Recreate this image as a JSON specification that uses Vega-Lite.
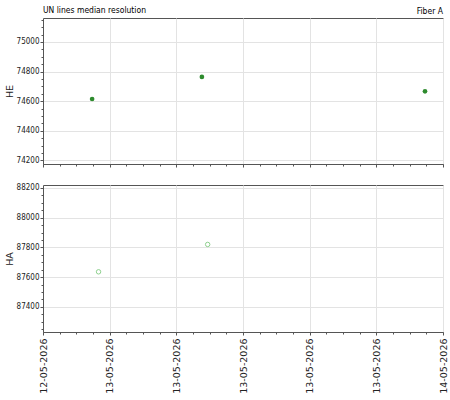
{
  "$schema": "https://vega.github.io/schema/vega-lite/v6.json",
  "padding": {"left": 3, "top": 5, "right": 3, "bottom": 3},
  "background": "white",
  "title": {
    "text": "Fiber A",
    "anchor": "end",
    "offset": -10,
    "dx": -5,
    "font": "DejaVu Sans Condensed",
    "fontSize": 8.5,
    "fontWeight": "normal",
    "color": "black"
  },
  "datasets": {
    "res": [
      {"time": "2026-05-13T00:41:00", "line": "HE", "value": 74615},
      {"time": "2026-05-13T08:55:00", "line": "HE", "value": 74764},
      {"time": "2026-05-14T01:39:00", "line": "HE", "value": 74667},
      {"time": "2026-05-13T01:10:00", "line": "HA", "value": 87636},
      {"time": "2026-05-13T09:21:00", "line": "HA", "value": 87820}
    ]
  },
  "spacing": 15,
  "vconcat": [
    {
      "width": 400,
      "height": 146,
      "title": {
        "text": "UN lines median resolution",
        "anchor": "start",
        "frame": "group",
        "offset": 4,
        "font": "DejaVu Sans Condensed",
        "fontSize": 8.5,
        "fontWeight": "normal",
        "color": "black"
      },
      "data": {"name": "res"},
      "transform": [{"filter": "datum.line === 'HE'"}],
      "layer": [
        {
          "mark": {"type": "point", "filled": true, "color": "#2e8b2e", "size": 22, "opacity": 1},
          "encoding": {
            "x": {
              "field": "time", "type": "temporal",
              "scale": {"domain": [{"year": 2026, "month": 5, "date": 12, "hours": 21}, {"year": 2026, "month": 5, "date": 14, "hours": 3}]},
              "axis": {
                "orient": "bottom", "title": null, "labels": false,
                "values": [
                  {"year": 2026, "month": 5, "date": 12, "hours": 21},
                  {"year": 2026, "month": 5, "date": 13, "hours": 2},
                  {"year": 2026, "month": 5, "date": 13, "hours": 7},
                  {"year": 2026, "month": 5, "date": 13, "hours": 12},
                  {"year": 2026, "month": 5, "date": 13, "hours": 17},
                  {"year": 2026, "month": 5, "date": 13, "hours": 22},
                  {"year": 2026, "month": 5, "date": 14, "hours": 3}
                ]
              }
            },
            "y": {
              "field": "value", "type": "quantitative", "title": "HE",
              "scale": {"domain": [74176, 75162], "nice": false, "zero": false},
              "axis": {"orient": "left", "format": "d", "values": [74200, 74400, 74600, 74800, 75000]}
            }
          }
        },
        {
          "mark": {"type": "point", "opacity": 0},
          "encoding": {
            "x": {
              "field": "time", "type": "temporal",
              "axis": {
                "orient": "bottom", "title": null, "labels": false, "grid": false, "domain": false, "tickSize": 2,
                "values": [
                  {"year": 2026, "month": 5, "date": 12, "hours": 22, "minutes": 15},
                  {"year": 2026, "month": 5, "date": 12, "hours": 23, "minutes": 30},
                  {"year": 2026, "month": 5, "date": 13, "hours": 0, "minutes": 45},
                  {"year": 2026, "month": 5, "date": 13, "hours": 3, "minutes": 15},
                  {"year": 2026, "month": 5, "date": 13, "hours": 4, "minutes": 30},
                  {"year": 2026, "month": 5, "date": 13, "hours": 5, "minutes": 45},
                  {"year": 2026, "month": 5, "date": 13, "hours": 8, "minutes": 15},
                  {"year": 2026, "month": 5, "date": 13, "hours": 9, "minutes": 30},
                  {"year": 2026, "month": 5, "date": 13, "hours": 10, "minutes": 45},
                  {"year": 2026, "month": 5, "date": 13, "hours": 13, "minutes": 15},
                  {"year": 2026, "month": 5, "date": 13, "hours": 14, "minutes": 30},
                  {"year": 2026, "month": 5, "date": 13, "hours": 15, "minutes": 45},
                  {"year": 2026, "month": 5, "date": 13, "hours": 18, "minutes": 15},
                  {"year": 2026, "month": 5, "date": 13, "hours": 19, "minutes": 30},
                  {"year": 2026, "month": 5, "date": 13, "hours": 20, "minutes": 45},
                  {"year": 2026, "month": 5, "date": 13, "hours": 23, "minutes": 15},
                  {"year": 2026, "month": 5, "date": 14, "hours": 0, "minutes": 30},
                  {"year": 2026, "month": 5, "date": 14, "hours": 1, "minutes": 45}
                ]
              }
            },
            "y": {
              "field": "value", "type": "quantitative",
              "axis": {
                "orient": "left", "title": null, "labels": false, "grid": false, "domain": false, "tickSize": 2,
                "values": [74250, 74300, 74350, 74450, 74500, 74550, 74650, 74700, 74750, 74850, 74900, 74950, 75050, 75100, 75150]
              }
            }
          }
        }
      ],
      "resolve": {"axis": {"x": "independent", "y": "independent"}}
    },
    {
      "width": 400,
      "height": 147,
      "data": {"name": "res"},
      "transform": [{"filter": "datum.line === 'HA'"}],
      "layer": [
        {
          "mark": {"type": "point", "filled": false, "color": "#8fd18f", "size": 20, "strokeWidth": 1, "opacity": 1},
          "encoding": {
            "x": {
              "field": "time", "type": "temporal",
              "scale": {"domain": [{"year": 2026, "month": 5, "date": 12, "hours": 21}, {"year": 2026, "month": 5, "date": 14, "hours": 3}]},
              "axis": {
                "orient": "bottom", "title": null, "format": "%d-%m-%Y", "labelAngle": -90,
                "values": [
                  {"year": 2026, "month": 5, "date": 12, "hours": 21},
                  {"year": 2026, "month": 5, "date": 13, "hours": 2},
                  {"year": 2026, "month": 5, "date": 13, "hours": 7},
                  {"year": 2026, "month": 5, "date": 13, "hours": 12},
                  {"year": 2026, "month": 5, "date": 13, "hours": 17},
                  {"year": 2026, "month": 5, "date": 13, "hours": 22},
                  {"year": 2026, "month": 5, "date": 14, "hours": 3}
                ]
              }
            },
            "y": {
              "field": "value", "type": "quantitative", "title": "HA",
              "scale": {"domain": [87231, 88220], "nice": false, "zero": false},
              "axis": {"orient": "left", "format": "d", "values": [87400, 87600, 87800, 88000, 88200]}
            }
          }
        },
        {
          "mark": {"type": "point", "opacity": 0},
          "encoding": {
            "x": {
              "field": "time", "type": "temporal",
              "axis": {
                "orient": "bottom", "title": null, "labels": false, "grid": false, "domain": false, "tickSize": 2,
                "values": [
                  {"year": 2026, "month": 5, "date": 12, "hours": 22, "minutes": 15},
                  {"year": 2026, "month": 5, "date": 12, "hours": 23, "minutes": 30},
                  {"year": 2026, "month": 5, "date": 13, "hours": 0, "minutes": 45},
                  {"year": 2026, "month": 5, "date": 13, "hours": 3, "minutes": 15},
                  {"year": 2026, "month": 5, "date": 13, "hours": 4, "minutes": 30},
                  {"year": 2026, "month": 5, "date": 13, "hours": 5, "minutes": 45},
                  {"year": 2026, "month": 5, "date": 13, "hours": 8, "minutes": 15},
                  {"year": 2026, "month": 5, "date": 13, "hours": 9, "minutes": 30},
                  {"year": 2026, "month": 5, "date": 13, "hours": 10, "minutes": 45},
                  {"year": 2026, "month": 5, "date": 13, "hours": 13, "minutes": 15},
                  {"year": 2026, "month": 5, "date": 13, "hours": 14, "minutes": 30},
                  {"year": 2026, "month": 5, "date": 13, "hours": 15, "minutes": 45},
                  {"year": 2026, "month": 5, "date": 13, "hours": 18, "minutes": 15},
                  {"year": 2026, "month": 5, "date": 13, "hours": 19, "minutes": 30},
                  {"year": 2026, "month": 5, "date": 13, "hours": 20, "minutes": 45},
                  {"year": 2026, "month": 5, "date": 13, "hours": 23, "minutes": 15},
                  {"year": 2026, "month": 5, "date": 14, "hours": 0, "minutes": 30},
                  {"year": 2026, "month": 5, "date": 14, "hours": 1, "minutes": 45}
                ]
              }
            },
            "y": {
              "field": "value", "type": "quantitative",
              "axis": {
                "orient": "left", "title": null, "labels": false, "grid": false, "domain": false, "tickSize": 2,
                "values": [87250, 87300, 87350, 87450, 87500, 87550, 87650, 87700, 87750, 87850, 87900, 87950, 88050, 88100, 88150, 88200]
              }
            }
          }
        }
      ],
      "resolve": {"axis": {"x": "independent", "y": "independent"}}
    }
  ],
  "config": {
    "view": {"stroke": "#555555", "strokeWidth": 1},
    "axis": {
      "grid": true,
      "gridColor": "#e3e3e3",
      "gridWidth": 1,
      "domainColor": "#555555",
      "tickColor": "#555555",
      "tickSize": 3,
      "labelPadding": 1,
      "labelFont": "DejaVu Sans Condensed",
      "labelFontSize": 8,
      "labelColor": "#222222",
      "titleFont": "DejaVu Sans",
      "titleFontSize": 9.5,
      "titleFontWeight": "normal",
      "titleColor": "#222222",
      "titlePadding": 2
    },
    "axisX": {
      "labelFont": "DejaVu Sans",
      "labelFontSize": 9.5,
      "labelPadding": 3
    }
  }
}
